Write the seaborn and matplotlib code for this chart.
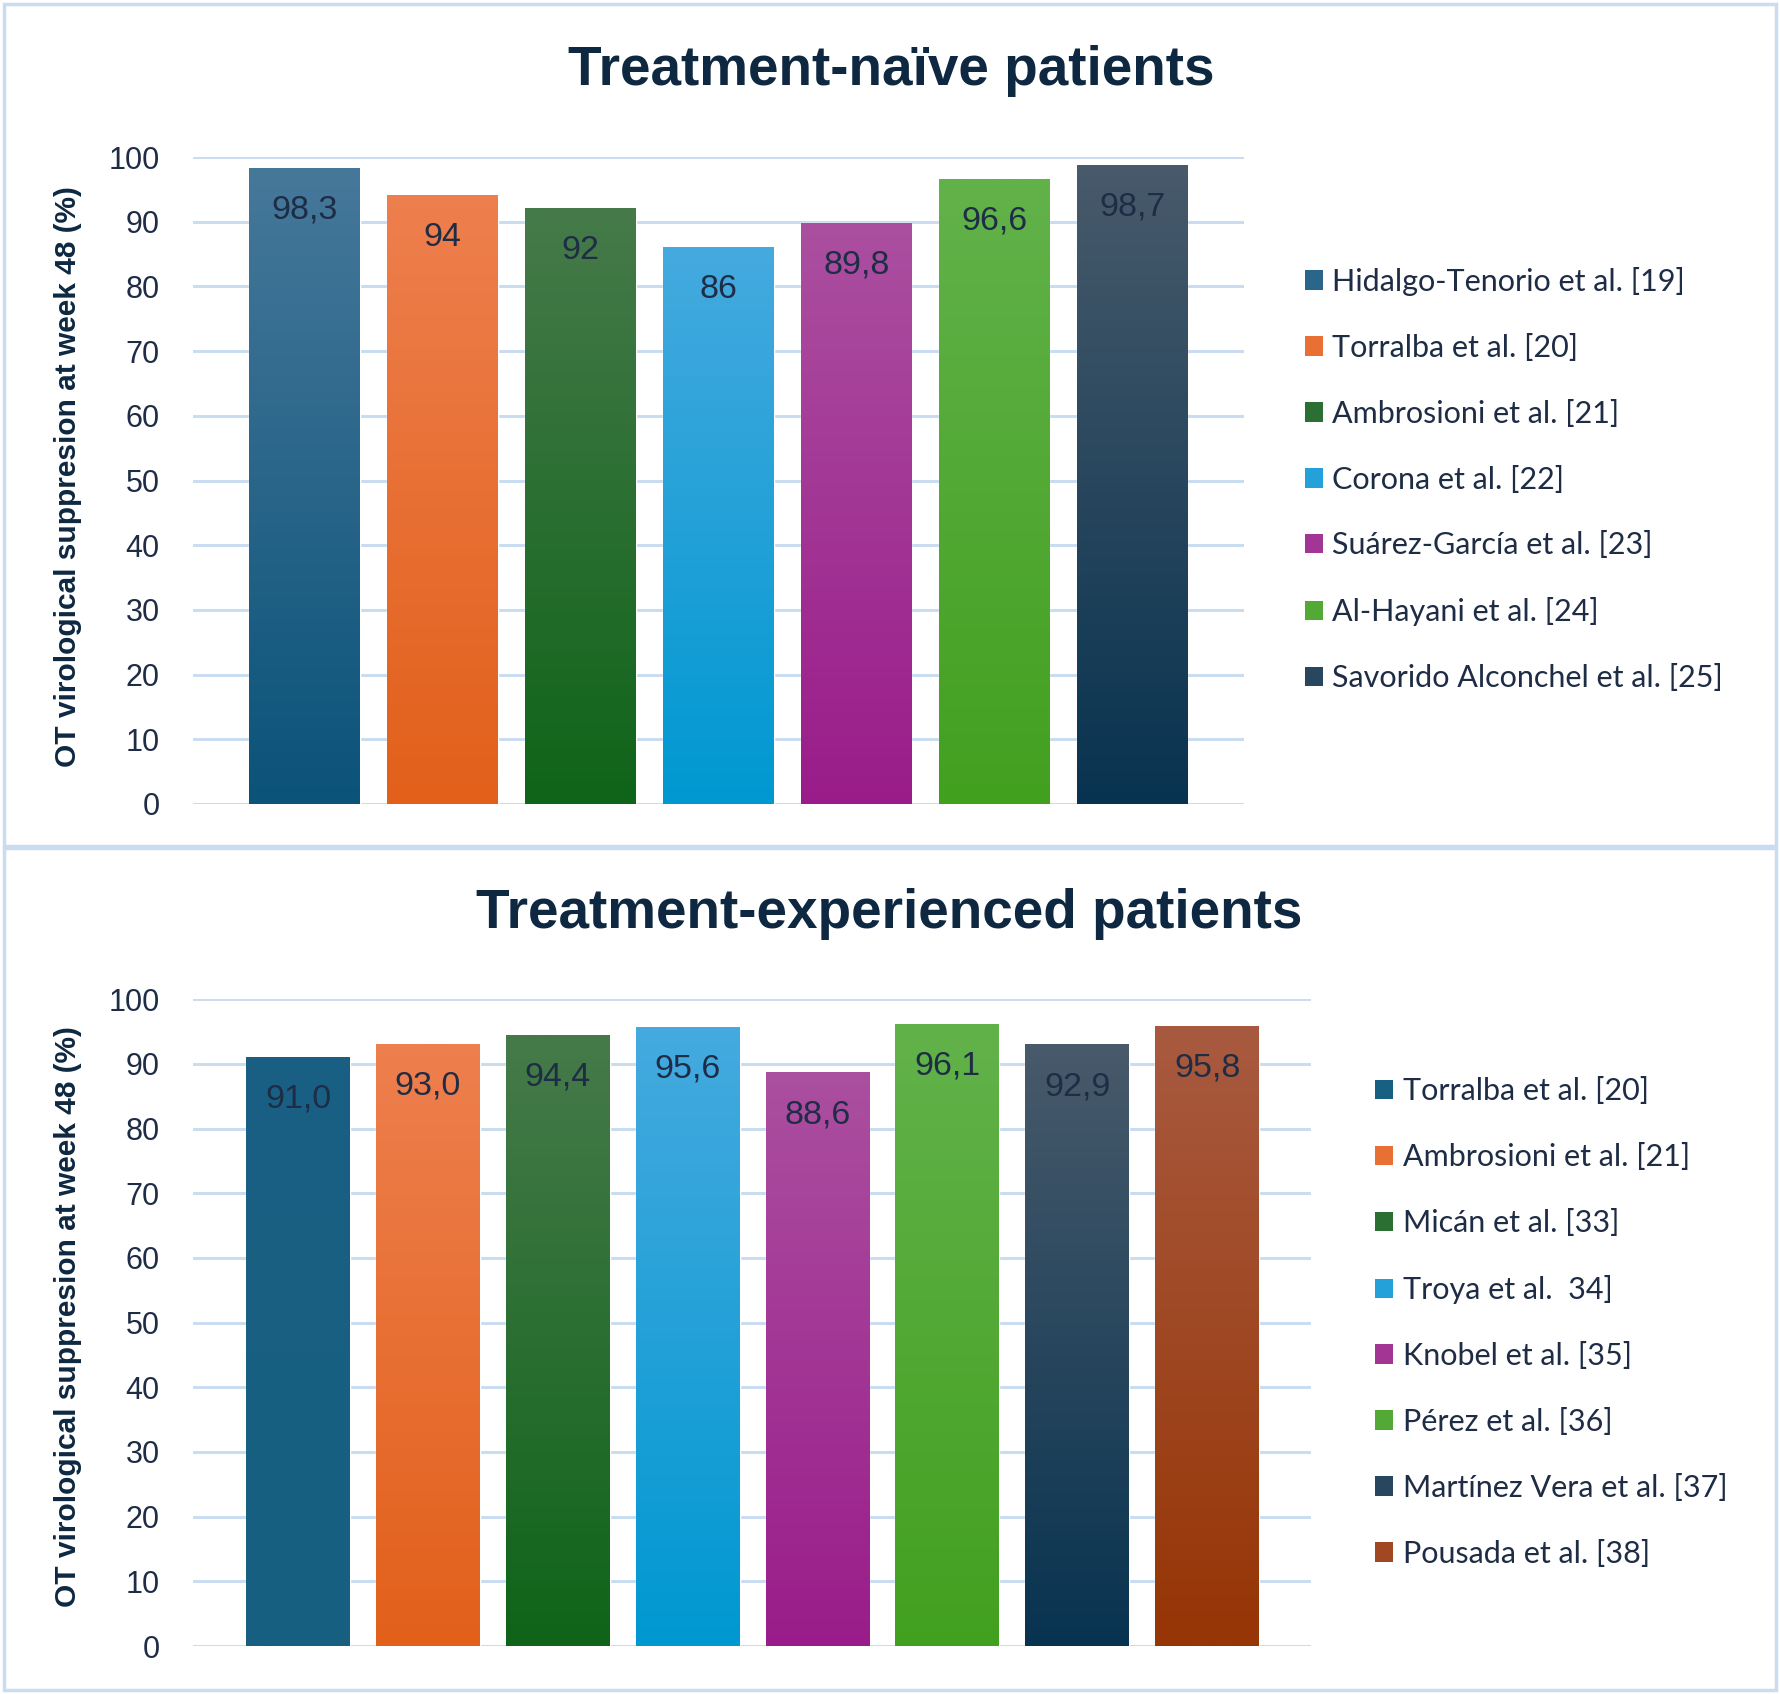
import numpy as np
import pandas as pd
import matplotlib
matplotlib.use("Agg")
import matplotlib.pyplot as plt
from matplotlib.colors import to_rgb
from matplotlib.patches import Patch, Rectangle
import seaborn as sns

# ---- data ----
naive_studies = [
    "Hidalgo-Tenorio et al. [19]", "Torralba et al. [20]", "Ambrosioni et al. [21]",
    "Corona et al. [22]", "Suárez-García et al. [23]", "Al-Hayani et al. [24]",
    "Savorido Alconchel et al. [25]",
]
naive_values = [98.3, 94, 92, 86, 89.8, 96.6, 98.7]
naive_labels = ["98,3", "94", "92", "86", "89,8", "96,6", "98,7"]
naive_top = ["#46789A", "#EE7F4E", "#467A4A", "#45AADF", "#AB4FA0", "#62B24A", "#485A6B"]
naive_bottom = ["#0B5379", "#E2601A", "#0F6419", "#0098D1", "#9A1C8A", "#42A01F", "#083350"]

exp_studies = [
    "Torralba et al. [20]", "Ambrosioni et al. [21]", "Micán et al. [33]",
    "Troya et al.  34]", "Knobel et al. [35]", "Pérez et al. [36]",
    "Martínez Vera et al. [37]", "Pousada et al. [38]",
]
exp_values = [91.0, 93.0, 94.4, 95.6, 88.6, 96.1, 92.9, 95.8]
exp_labels = ["91,0", "93,0", "94,4", "95,6", "88,6", "96,1", "92,9", "95,8"]
exp_top = ["#1A6084", "#EE7F4E", "#467A4A", "#45AADF", "#AB4FA0", "#62B24A", "#485A6B", "#A85A40"]
exp_bottom = ["#165F80", "#E2601A", "#0F6419", "#0098D1", "#9A1C8A", "#42A01F", "#083350", "#963505"]

YLABEL = "OT virological suppresion at week 48 (%)"
GRID = "#C9DCF0"
NAVY = "#0E2841"
TXT = "#1E2D45"

sns.set_theme(style="white")
plt.rcParams["font.family"] = ["Liberation Sans", "DejaVu Sans"]

fig = plt.figure(figsize=(17.8, 16.94), dpi=100)


def draw_panel(ax, studies, values, labels, tops, bottoms, xmax):
    df = pd.DataFrame({"study": studies, "value": values})
    sns.barplot(data=df, x="study", y="value", hue="study", palette=bottoms,
                width=0.8, legend=False, ax=ax, saturation=1)
    # vertical gradient on every bar (lighter at top)
    for i, (patch, c_top, c_bot) in enumerate(zip(ax.patches, tops, bottoms)):
        x0, w, h = patch.get_x(), patch.get_width(), patch.get_height()
        t = np.linspace(0, 1, 256)[:, None, None]
        grad = np.array(to_rgb(c_bot))[None, None, :] * (1 - t) + np.array(to_rgb(c_top))[None, None, :] * t
        ax.imshow(grad, extent=[x0, x0 + w, 0, h], origin="lower", aspect="auto",
                  zorder=patch.get_zorder() + 0.1, interpolation="bilinear")
        ax.annotate(labels[i], (x0 + w / 2, h), xytext=(0, -30),
                    textcoords="offset points", ha="center", va="center",
                    fontsize=24.5, color=TXT, zorder=5)
    ax.set_xlim(-0.81, xmax)
    ax.set_ylim(0, 100)
    ax.set_yticks(range(0, 101, 10))
    ax.set_xticks([])
    ax.set_xlabel("")
    ax.set_ylabel("")
    ax.grid(axis="y", color=GRID, linewidth=2.2)
    ax.set_axisbelow(True)
    for s in ax.spines.values():
        s.set_visible(False)
    ax.tick_params(axis="y", length=0, pad=24, labelsize=22, labelcolor=TXT)


ax1 = fig.add_axes([0.1084, 0.5254, 0.5904, 0.3819])
draw_panel(ax1, naive_studies, naive_values, naive_labels, naive_top, naive_bottom, 6.81)

ax2 = fig.add_axes([0.1084, 0.0283, 0.6281, 0.3819])
draw_panel(ax2, exp_studies, exp_values, exp_labels, exp_top, exp_bottom, 7.80)

# titles
fig.text(0.5006, 0.9578, "Treatment-naïve patients", ha="center", va="center",
         fontsize=39.5, fontweight="bold", color=NAVY)
fig.text(0.4994, 0.4605, "Treatment-experienced patients", ha="center", va="center",
         fontsize=39.5, fontweight="bold", color=NAVY)

# y labels
fig.text(0.0382, 0.7185, YLABEL, rotation=90, ha="center", va="center",
         fontsize=21.5, fontweight="bold", color=NAVY)
fig.text(0.0382, 0.2226, YLABEL, rotation=90, ha="center", va="center",
         fontsize=21.5, fontweight="bold", color=NAVY)


def add_legend(studies, tops, bottoms, x, y):
    handles = []
    for c_top, c_bot in zip(tops, bottoms):
        mid = tuple((np.array(to_rgb(c_top)) + np.array(to_rgb(c_bot))) / 2)
        handles.append(Patch(facecolor=mid, edgecolor="none"))
    leg = fig.legend(handles, studies, loc="center left", bbox_to_anchor=(x, y),
                     frameon=False, handlelength=0.6, handleheight=0.6,
                     handletextpad=0.3, labelspacing=1.24, borderpad=0, borderaxespad=0,
                     prop={"family": ["Lato", "DejaVu Sans"], "size": 22})
    for t in leg.get_texts():
        t.set_color(TXT)


add_legend(naive_studies, naive_top, naive_bottom, 0.733, 0.7169)
add_legend(exp_studies, exp_top, exp_bottom, 0.7725, 0.2193)

# panel borders
for (y0, h) in [(1 - 846 / 1694, (846 - 4) / 1694), (4 / 1694, (846 - 4) / 1694)]:
    fig.patches.append(Rectangle((4 / 1780, y0), 1772 / 1780, h, transform=fig.transFigure,
                                 fill=False, edgecolor=GRID, linewidth=2.5))

fig.savefig("out.png", dpi=100)
